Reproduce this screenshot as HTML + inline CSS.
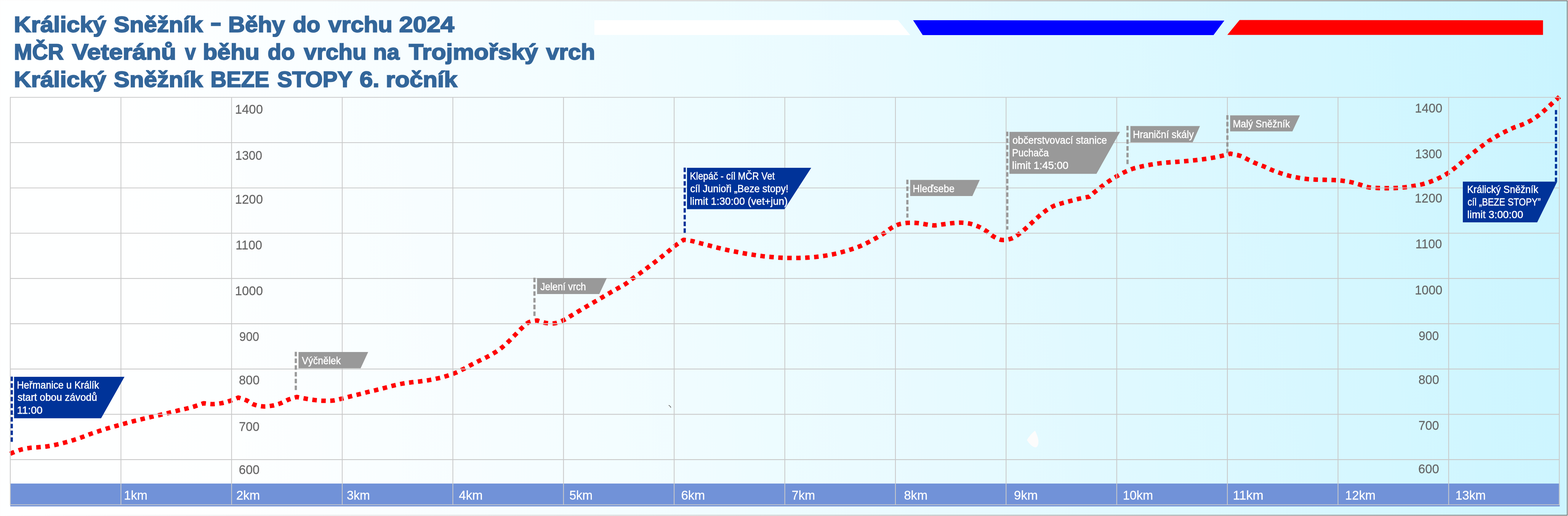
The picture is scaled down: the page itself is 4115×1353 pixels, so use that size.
<!DOCTYPE html>
<html lang="cs"><head><meta charset="utf-8">
<title>Králický Sněžník - Běhy do vrchu 2024</title>
<style>
html,body{margin:0;padding:0;background:#fbfbfb;}
body{width:4115px;height:1353px;}
svg{display:block;}
text{font-family:"Liberation Sans",sans-serif;}
.t{font-weight:bold;font-size:57.0px;fill:#33669a;stroke:#33669a;stroke-width:2.4;stroke-linejoin:miter;stroke-miterlimit:2.5;}
.n{font-size:32.5px;fill:#666666;stroke:#666666;stroke-width:0.3;}
.k{font-size:32.5px;fill:#ffffff;stroke:#ffffff;stroke-width:0.3;}
.f{font-size:28.0px;fill:#ffffff;stroke:#ffffff;stroke-width:0.6;}
.r{fill:none;stroke:#ff0000;stroke-width:11.8;}
</style></head><body>
<svg width="4115" height="1353" viewBox="0 0 4115 1353" role="img" aria-label="Výškový profil trati">
<defs>
<linearGradient id="bg" gradientUnits="userSpaceOnUse" x1="0" y1="0" x2="4018.5" y2="-622.9">
<stop offset="0.00" stop-color="#feffff"/><stop offset="0.05" stop-color="#feffff"/><stop offset="0.10" stop-color="#fdffff"/><stop offset="0.15" stop-color="#fbfeff"/><stop offset="0.20" stop-color="#f9feff"/><stop offset="0.25" stop-color="#f7fdff"/><stop offset="0.30" stop-color="#f5fdff"/><stop offset="0.35" stop-color="#f3fdff"/><stop offset="0.40" stop-color="#f0fcff"/><stop offset="0.45" stop-color="#edfcff"/><stop offset="0.50" stop-color="#ebfbff"/><stop offset="0.55" stop-color="#e8faff"/><stop offset="0.60" stop-color="#e5faff"/><stop offset="0.65" stop-color="#e1f9ff"/><stop offset="0.70" stop-color="#def9ff"/><stop offset="0.75" stop-color="#dbf8ff"/><stop offset="0.80" stop-color="#d7f7ff"/><stop offset="0.85" stop-color="#d4f7ff"/><stop offset="0.90" stop-color="#d0f6ff"/><stop offset="0.95" stop-color="#cdf5ff"/><stop offset="1.00" stop-color="#c9f4ff"/>
</linearGradient>
<linearGradient id="bd" gradientUnits="userSpaceOnUse" x1="0" y1="0" x2="4115" y2="0">
<stop offset="0" stop-color="#ffffff"/><stop offset="0.5" stop-color="#c6c6c6"/><stop offset="1" stop-color="#727272"/>
</linearGradient>
</defs>
<rect x="0" y="0" width="4115" height="1353" fill="#fbfbfb"/>
<rect x="2" y="2" width="4111" height="1349" fill="url(#bg)"/>
<rect x="2" y="2" width="4111" height="1349" fill="none" stroke="url(#bd)" stroke-width="2"/>
<text class="t" y="84.0"><tspan x="36.6" textLength="242.0" lengthAdjust="spacingAndGlyphs">Králický</tspan> <tspan x="298.8" textLength="233.6" lengthAdjust="spacingAndGlyphs">Sněžník</tspan> <tspan x="552.0" dy="-5" textLength="29.0" lengthAdjust="spacingAndGlyphs">-</tspan> <tspan x="599.1" dy="5" textLength="148.5" lengthAdjust="spacingAndGlyphs">Běhy</tspan> <tspan x="768.4" textLength="72.2" lengthAdjust="spacingAndGlyphs">do</tspan> <tspan x="861.8" textLength="168.3" lengthAdjust="spacingAndGlyphs">vrchu</tspan> <tspan x="1047.6" textLength="144.6" lengthAdjust="spacingAndGlyphs">2024</tspan></text>
<text class="t" y="156.0"><tspan x="36.8" textLength="130.1" lengthAdjust="spacingAndGlyphs">MČR</tspan> <tspan x="188.9" textLength="273.4" lengthAdjust="spacingAndGlyphs">Veteránů</tspan> <tspan x="485.5" textLength="28.3" lengthAdjust="spacingAndGlyphs">v</tspan> <tspan x="532.2" textLength="149.0" lengthAdjust="spacingAndGlyphs">běhu</tspan> <tspan x="702.6" textLength="71.2" lengthAdjust="spacingAndGlyphs">do</tspan> <tspan x="797.6" textLength="164.4" lengthAdjust="spacingAndGlyphs">vrchu</tspan> <tspan x="979.2" textLength="69.2" lengthAdjust="spacingAndGlyphs">na</tspan> <tspan x="1072.9" textLength="338.9" lengthAdjust="spacingAndGlyphs">Trojmořský</tspan> <tspan x="1433.2" textLength="128.5" lengthAdjust="spacingAndGlyphs">vrch</tspan></text>
<text class="t" y="228.0"><tspan x="36.6" textLength="242.0" lengthAdjust="spacingAndGlyphs">Králický</tspan> <tspan x="298.8" textLength="233.6" lengthAdjust="spacingAndGlyphs">Sněžník</tspan> <tspan x="552.4" textLength="154.2" lengthAdjust="spacingAndGlyphs">BEZE</tspan> <tspan x="727.8" textLength="195.8" lengthAdjust="spacingAndGlyphs">STOPY</tspan> <tspan x="943.7" textLength="52.0" lengthAdjust="spacingAndGlyphs">6.</tspan> <tspan x="1012.5" textLength="187.5" lengthAdjust="spacingAndGlyphs">ročník</tspan></text>
<polygon points="1559.9,53.1 2356.7,52.7 2388.8,91.9 1559.9,91.6" fill="#ffffff"/>
<polygon points="2396.3,52.9 3213.1,53.9 3184.7,92 2421.5,92" fill="#0000ff"/>
<polygon points="3253.1,52.5 4049.4,53.2 4049.4,91.5 3221,91.6" fill="#ff0000"/>
<rect x="27.0" y="1267.9" width="4066.2" height="59.9" fill="#7192d8"/>
<path class="r" d="M26.8 1190.0C27.6 1189.6 27.4 1189.4 31.9 1187.6C36.4 1185.8 46.2 1181.5 53.8 1179.3C61.3 1177.1 69.4 1175.7 77.2 1174.6C85.0 1173.5 92.9 1173.4 100.8 1172.7C108.7 1172.0 116.6 1171.4 124.4 1170.3C132.2 1169.2 139.9 1167.6 147.6 1165.9C155.3 1164.2 162.9 1162.4 170.5 1160.4C178.1 1158.4 185.7 1156.2 193.2 1153.8C200.7 1151.4 208.1 1148.9 215.4 1146.3C222.8 1143.7 229.9 1140.7 237.3 1138.0C244.7 1135.3 252.1 1132.9 259.7 1130.4C267.2 1127.9 275.0 1125.4 282.6 1123.1C290.2 1120.8 297.7 1118.8 305.3 1116.7C312.9 1114.6 320.6 1112.5 328.2 1110.4C335.8 1108.3 343.4 1106.2 351.1 1104.2C358.8 1102.2 366.6 1100.4 374.3 1098.6C382.0 1096.8 389.7 1094.9 397.4 1093.1C405.1 1091.3 412.8 1089.6 420.3 1087.9C427.8 1086.2 434.8 1084.6 442.4 1082.7C450.0 1080.8 458.3 1078.7 466.0 1076.8C473.7 1074.9 480.9 1073.5 488.4 1071.6C495.9 1069.7 503.1 1067.9 510.8 1065.5C518.5 1063.1 530.5 1058.7 534.5 1057.3" stroke-dasharray="11.825 11.825" stroke-dashoffset="0.000"/>
<path class="r" d="M534.5 1057.3C538.0 1057.7 548.2 1059.6 555.7 1059.6C563.2 1059.6 571.5 1058.8 579.3 1057.5C587.1 1056.2 594.8 1054.0 602.5 1051.5C610.2 1049.0 621.8 1044.0 625.6 1042.5" stroke-dasharray="11.730 11.730" stroke-dashoffset="5.865"/>
<path class="r" d="M625.6 1042.5C629.1 1043.7 639.8 1046.7 646.6 1049.7C653.5 1052.8 659.4 1058.1 666.7 1060.8C674.0 1063.5 682.4 1065.2 690.3 1065.7C698.2 1066.2 706.2 1065.2 713.9 1063.8C721.6 1062.4 728.9 1060.2 736.3 1057.5C743.7 1054.8 751.2 1050.0 758.3 1047.3C765.4 1044.5 775.5 1042.0 779.0 1041.0" stroke-dasharray="11.595 11.595" stroke-dashoffset="5.798"/>
<path class="r" d="M779.0 1041.0C782.9 1041.7 794.6 1044.1 802.5 1045.4C810.4 1046.7 818.2 1048.1 826.1 1049.0C834.0 1049.9 841.8 1050.6 849.7 1050.8C857.6 1051.0 865.5 1051.3 873.3 1050.4C881.0 1049.5 888.5 1047.4 896.2 1045.6C903.9 1043.8 911.6 1041.5 919.3 1039.5C927.0 1037.5 934.8 1035.7 942.5 1033.8C950.2 1031.9 957.8 1029.8 965.4 1027.9C973.0 1026.0 980.6 1024.4 988.3 1022.5C996.0 1020.6 1003.8 1018.6 1011.4 1016.6C1019.0 1014.6 1026.3 1012.5 1033.9 1010.7C1041.5 1008.9 1049.4 1007.1 1057.1 1005.7C1064.8 1004.3 1072.5 1003.4 1080.3 1002.4C1088.1 1001.4 1096.1 1000.8 1103.9 999.8C1111.7 998.8 1119.2 997.8 1127.0 996.5C1134.8 995.2 1142.7 993.6 1150.4 991.8C1158.1 990.0 1165.5 988.0 1173.1 985.6C1180.7 983.2 1188.8 980.4 1196.0 977.4C1203.2 974.4 1209.6 970.9 1216.5 967.4C1223.4 963.9 1230.3 959.9 1237.3 956.3C1244.3 952.6 1251.5 949.0 1258.6 945.5C1265.7 942.0 1272.8 938.8 1279.8 935.1C1286.8 931.4 1293.8 927.5 1300.4 923.3C1307.0 919.0 1313.2 914.5 1319.2 909.6C1325.2 904.7 1330.8 899.3 1336.5 893.8C1342.2 888.3 1347.9 882.2 1353.5 876.5C1359.1 870.8 1364.4 864.8 1370.1 859.6C1375.8 854.4 1381.2 848.3 1387.8 845.1C1394.4 841.9 1405.9 841.1 1409.5 840.3" stroke-dasharray="11.795 11.795" stroke-dashoffset="5.898"/>
<path class="r" d="M1409.5 840.3C1413.5 841.4 1425.5 845.8 1433.4 847.0C1441.3 848.2 1449.3 848.7 1457.0 847.4C1464.7 846.1 1472.4 842.5 1479.5 839.2C1486.6 835.9 1492.7 831.4 1499.5 827.4C1506.3 823.4 1513.3 819.2 1520.1 815.1C1526.9 811.0 1533.6 807.0 1540.4 803.0C1547.2 799.0 1554.1 795.1 1560.9 791.2C1567.7 787.3 1574.3 783.3 1581.0 779.4C1587.7 775.5 1594.3 771.5 1601.1 767.6C1607.9 763.7 1614.7 759.7 1621.6 755.8C1628.5 751.9 1635.8 748.5 1642.4 744.1C1649.0 739.7 1654.9 734.2 1661.3 729.5C1667.7 724.8 1674.2 720.4 1680.6 715.8C1687.0 711.2 1693.2 706.4 1699.5 701.7C1705.8 697.0 1712.2 692.3 1718.4 687.5C1724.6 682.7 1730.7 677.8 1736.8 672.9C1742.9 668.0 1749.1 663.0 1755.2 658.0C1761.3 653.0 1766.9 648.0 1773.4 643.1C1779.9 638.2 1790.6 631.2 1794.0 628.8" stroke-dasharray="11.889 11.889" stroke-dashoffset="5.944"/>
<path class="r" d="M1794.0 628.8C1797.7 629.3 1808.5 630.5 1815.9 632.0C1823.3 633.5 1830.7 635.9 1838.3 637.9C1845.9 639.9 1853.7 641.8 1861.3 643.8C1868.9 645.8 1876.3 647.8 1883.9 649.7C1891.5 651.6 1899.1 653.5 1906.8 655.2C1914.5 656.9 1922.2 658.4 1930.0 659.9C1937.8 661.4 1945.5 663.0 1953.3 664.4C1961.0 665.8 1968.7 666.9 1976.5 668.1C1984.3 669.3 1992.2 670.5 2000.1 671.5C2008.0 672.5 2015.8 673.1 2023.7 673.8C2031.6 674.5 2039.4 675.3 2047.3 675.7C2055.2 676.1 2063.0 676.3 2070.9 676.4C2078.8 676.5 2086.6 676.5 2094.5 676.4C2102.4 676.2 2110.3 676.0 2118.2 675.5C2126.1 675.0 2133.9 674.4 2141.8 673.6C2149.7 672.8 2157.7 671.7 2165.4 670.5C2173.2 669.3 2180.7 667.9 2188.3 666.3C2195.9 664.6 2203.4 662.7 2211.0 660.6C2218.6 658.5 2226.3 656.3 2233.9 653.8C2241.5 651.3 2249.2 648.8 2256.5 645.8C2263.8 642.8 2270.8 639.3 2277.8 635.8C2284.8 632.2 2291.7 628.4 2298.6 624.5C2305.5 620.6 2312.5 616.5 2319.1 612.2C2325.7 607.9 2331.5 602.4 2338.0 598.5C2344.5 594.6 2350.8 591.0 2358.1 588.6C2365.4 586.2 2373.8 585.1 2381.7 584.4C2389.6 583.7 2397.4 584.0 2405.3 584.6C2413.2 585.2 2421.1 587.0 2428.9 588.1C2436.7 589.2 2444.2 591.0 2452.0 591.0C2459.8 591.0 2467.8 589.1 2475.7 588.1C2483.6 587.1 2491.4 585.8 2499.3 585.1C2507.2 584.4 2515.0 583.6 2522.9 583.9C2530.8 584.2 2538.9 584.9 2546.5 586.7C2554.1 588.5 2561.6 591.2 2568.7 594.5C2575.8 597.8 2582.6 602.0 2589.0 606.3C2595.4 610.5 2600.5 616.2 2607.2 620.0C2613.9 623.8 2621.4 628.2 2629.1 629.2C2636.8 630.2 2645.9 628.3 2653.2 625.9C2660.5 623.5 2666.5 619.0 2672.8 614.6C2679.1 610.2 2685.1 604.9 2691.0 599.7C2696.9 594.5 2702.6 588.9 2708.5 583.5C2714.4 578.1 2720.2 572.5 2726.2 567.3C2732.2 562.1 2738.2 557.0 2744.6 552.5C2751.0 548.0 2757.3 543.9 2764.4 540.6C2771.5 537.3 2779.5 535.2 2787.1 532.9C2794.7 530.6 2802.3 528.8 2810.0 526.8C2817.7 524.8 2825.7 522.6 2833.3 520.8C2840.9 519.0 2851.4 517.2 2855.8 516.2C2860.2 515.2 2858.6 515.9 2860.0 515.0C2861.4 514.1 2862.3 512.7 2864.5 510.8C2866.7 508.9 2868.7 507.0 2873.1 503.4C2877.5 499.8 2884.6 494.0 2890.8 489.3C2897.0 484.6 2903.6 479.6 2910.2 475.1C2916.8 470.7 2923.4 466.5 2930.2 462.6C2937.0 458.7 2943.7 454.9 2950.8 451.5C2957.9 448.1 2965.2 445.0 2972.7 442.5C2980.2 440.0 2987.9 438.4 2995.6 436.6C3003.3 434.8 3011.0 433.3 3018.8 431.9C3026.6 430.5 3034.5 429.3 3042.4 428.3C3050.3 427.3 3058.1 426.7 3066.0 426.0C3073.9 425.3 3081.8 424.9 3089.6 424.3C3097.4 423.7 3104.9 423.1 3112.7 422.4C3120.5 421.7 3128.5 421.0 3136.4 420.1C3144.3 419.2 3152.1 418.3 3160.0 417.2C3167.9 416.1 3175.8 414.9 3183.6 413.5C3191.3 412.1 3198.9 410.4 3206.5 408.7C3214.1 406.9 3225.2 403.9 3228.9 403.0" stroke-dasharray="11.776 11.776" stroke-dashoffset="5.888"/>
<path class="r" d="M3228.9 403.0C3233.0 403.9 3246.2 405.9 3253.7 408.3C3261.2 410.8 3266.9 414.4 3273.8 417.7C3280.7 421.0 3287.9 424.8 3295.0 427.9C3302.1 431.0 3309.4 433.3 3316.6 436.3C3323.8 439.3 3330.6 442.9 3337.9 445.8C3345.2 448.8 3352.8 451.5 3360.3 454.0C3367.9 456.5 3375.5 458.9 3383.2 460.9C3390.9 462.9 3398.5 464.5 3406.3 465.9C3414.1 467.3 3422.1 468.5 3429.9 469.4C3437.7 470.2 3445.3 470.6 3453.1 471.0C3460.9 471.4 3468.8 471.3 3476.7 471.5C3484.6 471.7 3492.9 471.8 3500.8 472.2C3508.7 472.6 3516.2 473.1 3523.9 474.1C3531.7 475.1 3539.6 476.4 3547.3 478.1C3555.0 479.8 3562.5 482.3 3570.0 484.5C3577.5 486.7 3584.6 489.7 3592.2 491.1C3599.8 492.5 3607.9 492.6 3615.8 493.0C3623.7 493.4 3631.5 493.5 3639.4 493.5C3647.3 493.5 3655.1 493.4 3663.0 493.0C3670.9 492.6 3678.7 492.0 3686.6 491.1C3694.5 490.2 3702.4 489.0 3710.2 487.6C3718.0 486.2 3725.8 484.9 3733.4 482.9C3741.0 480.9 3748.5 478.6 3755.8 475.8C3763.2 473.0 3770.5 469.7 3777.5 466.3C3784.5 462.9 3791.2 459.4 3797.8 455.2C3804.4 451.0 3810.9 445.9 3817.2 441.1C3823.5 436.3 3829.3 431.2 3835.4 426.2C3841.5 421.1 3847.6 415.9 3853.8 410.8C3860.0 405.7 3866.4 400.4 3872.7 395.5C3878.9 390.6 3885.0 385.8 3891.3 381.2C3897.6 376.6 3904.0 372.0 3910.5 367.7C3917.0 363.4 3923.7 359.5 3930.5 355.6C3937.3 351.8 3944.4 348.1 3951.5 344.6C3958.6 341.1 3966.0 337.5 3973.2 334.5C3980.4 331.5 3987.6 329.8 3994.8 326.8C4002.0 323.8 4009.4 320.5 4016.3 316.7C4023.2 312.9 4029.8 308.4 4036.1 303.8C4042.4 299.2 4048.2 294.0 4054.1 288.8C4060.0 283.6 4065.7 278.0 4071.4 272.8C4077.1 267.6 4084.8 260.9 4088.3 257.7C4091.8 254.5 4091.7 254.3 4092.4 253.6" stroke-dasharray="11.797 11.797" stroke-dashoffset="5.899"/>
<circle cx="534.5" cy="1057.3" r="5.9" fill="#ff0000"/>
<circle cx="625.6" cy="1042.5" r="5.9" fill="#ff0000"/>
<circle cx="779.0" cy="1041.0" r="5.9" fill="#ff0000"/>
<circle cx="1409.5" cy="840.3" r="5.9" fill="#ff0000"/>
<circle cx="1794.0" cy="628.8" r="5.9" fill="#ff0000"/>
<circle cx="3228.9" cy="403.0" r="5.9" fill="#ff0000"/>
<path d="M27.00 254.2V1324.5M317.37 254.2V1324.5M607.74 254.2V1324.5M898.11 254.2V1324.5M1188.48 254.2V1324.5M1478.85 254.2V1324.5M1769.22 254.2V1324.5M2059.59 254.2V1324.5M2349.96 254.2V1324.5M2640.33 254.2V1324.5M2930.70 254.2V1324.5M3221.07 254.2V1324.5M3511.44 254.2V1324.5M3801.81 254.2V1324.5M4092.18 254.2V1324.5M27.0 255.25H4092.2M27.0 373.98H4092.2M27.0 492.71H4092.2M27.0 611.44H4092.2M27.0 730.17H4092.2M27.0 848.90H4092.2M27.0 967.63H4092.2M27.0 1086.36H4092.2M27.0 1205.09H4092.2M27.0 1323.50H4092.2" fill="none" stroke="#c9c9c9" stroke-width="2.1"/>
<text class="n" x="616.7" y="298.2" textLength="73.3" lengthAdjust="spacingAndGlyphs">1400</text>
<text class="n" x="617.5" y="418.8" textLength="70.6" lengthAdjust="spacingAndGlyphs">1300</text>
<text class="n" x="616.7" y="533.8" textLength="73.3" lengthAdjust="spacingAndGlyphs">1200</text>
<text class="n" x="618.2" y="654.3" textLength="69.9" lengthAdjust="spacingAndGlyphs">1100</text>
<text class="n" x="616.7" y="773.7" textLength="73.3" lengthAdjust="spacingAndGlyphs">1000</text>
<text class="n" x="628.0" y="893.5" textLength="52.2" lengthAdjust="spacingAndGlyphs">900</text>
<text class="n" x="627.0" y="1008.4" textLength="54.2" lengthAdjust="spacingAndGlyphs">800</text>
<text class="n" x="627.0" y="1129.9" textLength="54.0" lengthAdjust="spacingAndGlyphs">700</text>
<text class="n" x="626.8" y="1243.0" textLength="54.4" lengthAdjust="spacingAndGlyphs">600</text>
<text class="n" x="3713.2" y="295.0" textLength="72.2" lengthAdjust="spacingAndGlyphs">1400</text>
<text class="n" x="3714.0" y="415.4" textLength="70.3" lengthAdjust="spacingAndGlyphs">1300</text>
<text class="n" x="3712.8" y="530.6" textLength="72.2" lengthAdjust="spacingAndGlyphs">1200</text>
<text class="n" x="3714.5" y="650.9" textLength="69.8" lengthAdjust="spacingAndGlyphs">1100</text>
<text class="n" x="3713.0" y="771.5" textLength="72.3" lengthAdjust="spacingAndGlyphs">1000</text>
<text class="n" x="3723.1" y="891.7" textLength="53.1" lengthAdjust="spacingAndGlyphs">900</text>
<text class="n" x="3722.5" y="1007.4" textLength="54.3" lengthAdjust="spacingAndGlyphs">800</text>
<text class="n" x="3722.5" y="1127.0" textLength="54.1" lengthAdjust="spacingAndGlyphs">700</text>
<text class="n" x="3722.0" y="1241.0" textLength="54.8" lengthAdjust="spacingAndGlyphs">600</text>
<text class="k" x="325.3" y="1309.9" textLength="61.8" lengthAdjust="spacingAndGlyphs">1km</text>
<text class="k" x="619.9" y="1309.9" textLength="62.3" lengthAdjust="spacingAndGlyphs">2km</text>
<text class="k" x="909.9" y="1309.9" textLength="61.1" lengthAdjust="spacingAndGlyphs">3km</text>
<text class="k" x="1204.3" y="1309.9" textLength="62.4" lengthAdjust="spacingAndGlyphs">4km</text>
<text class="k" x="1494.2" y="1309.9" textLength="60.9" lengthAdjust="spacingAndGlyphs">5km</text>
<text class="k" x="1787.4" y="1309.9" textLength="62.7" lengthAdjust="spacingAndGlyphs">6km</text>
<text class="k" x="2077.6" y="1309.9" textLength="61.4" lengthAdjust="spacingAndGlyphs">7km</text>
<text class="k" x="2372.4" y="1309.9" textLength="61.7" lengthAdjust="spacingAndGlyphs">8km</text>
<text class="k" x="2661.1" y="1309.9" textLength="62.3" lengthAdjust="spacingAndGlyphs">9km</text>
<text class="k" x="2946.7" y="1309.9" textLength="79.4" lengthAdjust="spacingAndGlyphs">10km</text>
<text class="k" x="3235.4" y="1309.9" textLength="80.4" lengthAdjust="spacingAndGlyphs">11km</text>
<text class="k" x="3530.1" y="1309.9" textLength="79.8" lengthAdjust="spacingAndGlyphs">12km</text>
<text class="k" x="3819.4" y="1309.9" textLength="79.7" lengthAdjust="spacingAndGlyphs">13km</text>
<path d="M2716.2 1128.9Q2727 1150 2725 1163Q2723 1174 2716 1173Q2705 1170 2694.9 1153.7Q2703 1140 2716.2 1128.9Z" fill="#fcfcfc"/>
<path d="M1754.8 1062.7Q1759 1064 1760.7 1068.9" fill="none" stroke="#555" stroke-width="1.5"/>
<path d="M30.9 987.4V1159.0" stroke="#003399" stroke-width="5.8" stroke-dasharray="11.8 5.9" fill="none"/>
<polygon points="36.9,988.0 326.7,988.0 265.3,1096.8 36.9,1096.8" fill="#003399"/>
<text class="f" x="44.3" y="1018.5" textLength="215.7" lengthAdjust="spacingAndGlyphs">Heřmanice u Králík</text>
<text class="f" x="45.9" y="1051.4" textLength="208.9" lengthAdjust="spacingAndGlyphs">start obou závodů</text>
<text class="f" x="44.6" y="1084.7" textLength="67.1" lengthAdjust="spacingAndGlyphs">11:00</text>
<path d="M776.3 922.4V1022.8" stroke="#999999" stroke-width="5.8" stroke-dasharray="11.8 5.9" fill="none"/>
<polygon points="783.4,923.0 966.2,923.0 946.4,965.8 783.4,965.8" fill="#999999"/>
<text class="f" x="792.3" y="954.6" textLength="102.0" lengthAdjust="spacingAndGlyphs">Výčnělek</text>
<path d="M1402.6 728.3V828.4" stroke="#999999" stroke-width="5.8" stroke-dasharray="11.8 5.9" fill="none"/>
<polygon points="1409.4,728.9 1592.5,728.9 1572.8,771.0 1409.4,771.0" fill="#999999"/>
<text class="f" x="1418.2" y="761.0" textLength="119.6" lengthAdjust="spacingAndGlyphs">Jelení vrch</text>
<path d="M1796.9 439.5V610.7" stroke="#003399" stroke-width="5.8" stroke-dasharray="11.8 5.9" fill="none"/>
<polygon points="1802.9,440.1 2128.9,440.1 2058.6,548.5 1802.9,548.5" fill="#003399"/>
<text class="f" x="1810.4" y="471.4" textLength="222.9" lengthAdjust="spacingAndGlyphs">Klepáč - cíl MČR Vet</text>
<text class="f" x="1811.5" y="504.4" textLength="257.7" lengthAdjust="spacingAndGlyphs">cíl Junioři „Beze stopy!</text>
<text class="f" x="1810.6" y="537.3" textLength="256.5" lengthAdjust="spacingAndGlyphs">limit 1:30:00 (vet+jun)</text>
<path d="M2381.3 471.2V570.6" stroke="#999999" stroke-width="5.8" stroke-dasharray="11.8 5.9" fill="none"/>
<polygon points="2388.6,471.8 2571.2,471.8 2551.9,514.0 2388.6,514.0" fill="#999999"/>
<text class="f" x="2395.3" y="504.4" textLength="109.6" lengthAdjust="spacingAndGlyphs">Hleďsebe</text>
<path d="M2643.5 345.2V601.9" stroke="#999999" stroke-width="5.8" stroke-dasharray="11.8 5.9" fill="none"/>
<polygon points="2649.1,345.8 2939.3,345.8 2877.5,455.8 2649.1,455.8" fill="#999999"/>
<text class="f" x="2657.0" y="377.1" textLength="248.2" lengthAdjust="spacingAndGlyphs">občerstvovací stanice</text>
<text class="f" x="2655.9" y="410.0" textLength="96.3" lengthAdjust="spacingAndGlyphs">Puchača</text>
<text class="f" x="2656.1" y="442.6" textLength="147.9" lengthAdjust="spacingAndGlyphs">limit 1:45:00</text>
<path d="M2959.0 330.0V430.5" stroke="#999999" stroke-width="5.8" stroke-dasharray="11.8 5.9" fill="none"/>
<polygon points="2966.6,330.6 3149.2,330.6 3130.0,373.1 2966.6,373.1" fill="#999999"/>
<text class="f" x="2972.9" y="362.3" textLength="160.0" lengthAdjust="spacingAndGlyphs">Hraniční skály</text>
<path d="M3221.1 301.9V401.6" stroke="#999999" stroke-width="5.8" stroke-dasharray="11.8 5.9" fill="none"/>
<polygon points="3228.3,302.5 3411.4,302.5 3391.7,344.6 3228.3,344.6" fill="#999999"/>
<text class="f" x="3235.6" y="334.2" textLength="149.5" lengthAdjust="spacingAndGlyphs">Malý Sněžník</text>
<path d="M4083.5 288.5V476.3" stroke="#003399" stroke-width="5.8" stroke-dasharray="11.8 5.9" fill="none"/>
<polygon points="3839.0,476.3 4086.7,476.3 4034.1,583.1 3839.0,583.1" fill="#003399"/>
<text class="f" x="3850.2" y="505.8" textLength="186.6" lengthAdjust="spacingAndGlyphs">Králický Sněžník</text>
<text class="f" x="3851.5" y="538.7" textLength="191.7" lengthAdjust="spacingAndGlyphs">cíl „BEZE STOPY”</text>
<text class="f" x="3850.5" y="571.7" textLength="146.9" lengthAdjust="spacingAndGlyphs">limit 3:00:00</text>
</svg>
</body></html>
